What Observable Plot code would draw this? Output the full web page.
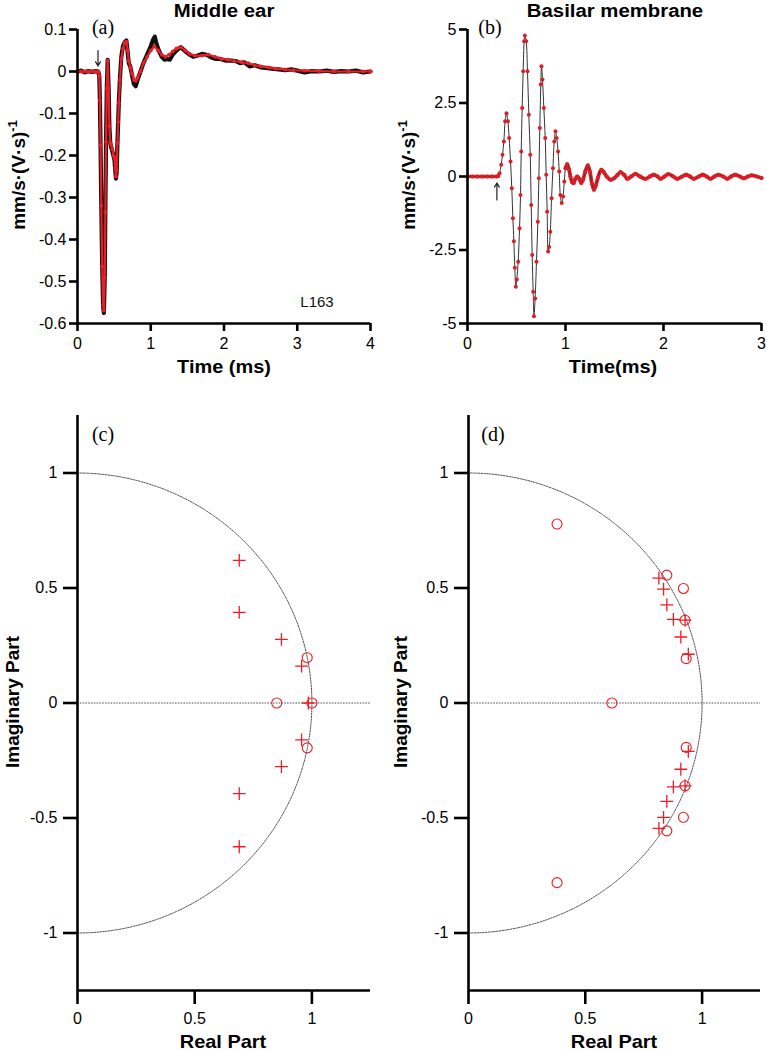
<!DOCTYPE html>
<html><head><meta charset="utf-8">
<script src="https://cdn.jsdelivr.net/npm/d3@7"></script>
<script src="https://cdn.jsdelivr.net/npm/@observablehq/plot@0.6"></script>
<style>
body{margin:0;background:#fff;}
#fig{position:relative;width:767px;height:1050px;font-family:"Liberation Sans",Arial,sans-serif;color:#000;overflow:hidden;background:#fff}
.lbl{position:absolute;white-space:nowrap;line-height:1;}
.ttl{font-weight:bold;font-size:18px;}
.axl{font-weight:bold;font-size:19px;}
.pl{font-family:"Liberation Serif","Times New Roman",serif;font-size:20px;}
sup{font-size:0.68em;vertical-align:0.55em;line-height:0}
</style></head><body><div id="fig"></div>
<script>
// ---------- (a) Middle ear: measured (black) ----------
const meMeasT = [0,0.05,0.1,0.15,0.2,0.25,0.283,0.297,0.306,0.315,0.325,0.338,0.35,0.36,0.372,0.38,0.39,0.40,0.412,0.425,0.435,0.447,0.46,0.475,0.49,0.505,0.515,0.525,0.535,0.545,0.555,0.565,0.58,0.598,0.62,0.645,0.667,0.685,0.70,0.72,0.745,0.77,0.795,0.82,0.86,0.90,0.95,1.0,1.03,1.055,1.08,1.11,1.15,1.19,1.22,1.26,1.30,1.35,1.41,1.47,1.53,1.58,1.64,1.70,1.76,1.82,1.88,1.95,2.02,2.10,2.16,2.22,2.28,2.35,2.42,2.50,2.60,2.68,2.75,2.83,2.92,3.0,3.1,3.2,3.3,3.4,3.5,3.6,3.7,3.8,3.9,4.0];
const meMeasV = [0,0.002,-0.002,0.001,-0.001,0.001,0,-0.01,-0.07,-0.18,-0.32,-0.47,-0.56,-0.575,-0.49,-0.33,-0.16,-0.04,0.028,-0.04,-0.13,-0.17,-0.18,-0.19,-0.2,-0.21,-0.235,-0.255,-0.24,-0.17,-0.12,-0.07,-0.015,0.035,0.06,0.07,0.074,0.045,0.02,0.012,-0.01,-0.03,-0.035,-0.02,0.0,0.02,0.04,0.06,0.075,0.083,0.065,0.05,0.035,0.028,0.03,0.028,0.04,0.05,0.058,0.048,0.04,0.035,0.038,0.042,0.04,0.034,0.03,0.03,0.026,0.026,0.025,0.02,0.022,0.012,0.015,0.01,0.008,0.006,0.005,0.003,0.005,0.002,-0.002,0.001,0.0,0.002,-0.001,0.001,0.0,0.002,-0.002,0.0];
// ---------- (a) Middle ear: model (red) ----------
const meModT = [0,0.05,0.1,0.15,0.2,0.25,0.283,0.297,0.306,0.315,0.325,0.338,0.35,0.36,0.372,0.38,0.39,0.40,0.412,0.425,0.435,0.447,0.46,0.475,0.49,0.505,0.515,0.525,0.535,0.545,0.555,0.565,0.58,0.598,0.62,0.645,0.667,0.685,0.70,0.72,0.745,0.77,0.795,0.82,0.86,0.90,0.95,1.0,1.05,1.10,1.15,1.20,1.25,1.30,1.35,1.41,1.47,1.53,1.60,1.70,1.79,1.88,1.97,2.05,2.14,2.24,2.33,2.42,2.50,2.60,2.70,2.83,2.95,3.1,3.3,3.5,3.7,3.9,4.0];
const meModV = [0,0,0,0,0,0,0,-0.01,-0.069,-0.176,-0.319,-0.464,-0.556,-0.569,-0.49,-0.335,-0.168,-0.04,0.026,-0.04,-0.13,-0.17,-0.175,-0.185,-0.2,-0.205,-0.23,-0.25,-0.235,-0.17,-0.12,-0.075,-0.02,0.03,0.055,0.068,0.071,0.05,0.025,0.01,-0.005,-0.02,-0.022,-0.015,0.0,0.02,0.035,0.05,0.06,0.05,0.04,0.035,0.04,0.048,0.055,0.058,0.05,0.042,0.038,0.038,0.04,0.035,0.03,0.028,0.025,0.022,0.02,0.015,0.012,0.01,0.007,0.005,0.003,0.002,0.001,0,0,0,0];
// ---------- (b) Basilar membrane ----------
const bmT = [0,0.05,0.10,0.15,0.20,0.25,0.30,0.315,0.327,0.344,0.357,0.371,0.384,0.398,0.412,0.425,0.439,0.452,0.463,0.473,0.483,0.493,0.503,0.517,0.531,0.541,0.548,0.558,0.568,0.578,0.585,0.599,0.612,0.626,0.640,0.650,0.660,0.670,0.678,0.690,0.704,0.718,0.728,0.738,0.748,0.755,0.765,0.779,0.793,0.803,0.813,0.823,0.833,0.845,0.858,0.872,0.885,0.898,0.910,0.924,0.936,0.947,0.962,0.975,0.988,1.000,1.017,1.035,1.050,1.068,1.085,1.100,1.120,1.140,1.160,1.180,1.200,1.228,1.250,1.270,1.290,1.310,1.330,1.364,1.390,1.420,1.459,1.500,1.530,1.561,1.600,1.630,1.670,1.714,1.760,1.816,1.860,1.900,1.940,1.970,2.010,2.050,2.100,2.140,2.190,2.230,2.270,2.310,2.360,2.400,2.440,2.480,2.520,2.560,2.610,2.650,2.690,2.730,2.780,2.820,2.860,2.900,2.950,3.000];
const bmV = [0,0,0,0,0,0,0,0.02,0.11,0.40,0.74,1.19,1.88,2.15,1.88,1.31,0.51,-0.40,-1.42,-2.20,-3.10,-3.75,-3.50,-2.90,-1.76,-0.63,0.85,2.33,3.58,4.60,4.80,4.60,3.58,2.10,0.74,-0.97,-2.67,-3.92,-4.75,-4.15,-2.90,-1.54,-0.06,1.65,3.13,3.75,3.30,2.33,1.31,0.06,-1.20,-2.55,-2.40,-1.88,-0.74,0.28,1.19,1.54,1.31,0.85,0.17,-0.63,-0.90,-0.68,-0.17,0.28,0.42,0.25,0.00,-0.20,-0.22,-0.08,0.00,-0.08,-0.22,-0.10,0.15,0.38,0.15,-0.25,-0.45,-0.30,-0.05,0.23,0.15,0.00,-0.11,-0.05,0.05,0.15,0.05,-0.08,0.00,0.09,0.00,-0.08,0.00,0.06,0.00,-0.08,0.00,0.08,0.00,-0.08,0.00,0.06,0.00,-0.08,0.00,0.06,0.00,-0.08,0.00,0.06,0.00,-0.08,0.00,0.06,0.00,-0.06,0.00,0.04,0.00,-0.05];
// ---------- (c) poles / zeros ----------
const cPoleRe = [0.69,0.69,0.87,0.956,0.985,0.956,0.87,0.69,0.69];
const cPoleIm = [0.62,0.394,0.277,0.16,0.0,-0.16,-0.277,-0.394,-0.625];
const cZeroRe = [0.98,0.85,1.0,0.98];
const cZeroIm = [0.197,0.0,0.0,-0.195];
// ---------- (d) poles / zeros ----------
const dPoleRe = [0.815,0.835,0.849,0.877,0.927,0.909,0.941,0.815,0.835,0.849,0.877,0.927,0.909,0.941];
const dPoleIm = [0.543,0.495,0.427,0.364,0.36,0.287,0.212,-0.545,-0.497,-0.428,-0.365,-0.36,-0.288,-0.21];
const dZeroRe = [0.379,0.849,0.92,0.927,0.932,0.614,0.932,0.927,0.92,0.849,0.379];
const dZeroIm = [0.778,0.556,0.498,0.36,0.193,0.0,-0.193,-0.36,-0.497,-0.556,-0.781];
// ---------- ticks ----------
const aXTicks = [0,1,2,3,4];
const aYTicks = [0.1,0,-0.1,-0.2,-0.3,-0.4,-0.5,-0.6];
const bXTicks = [0,1,2,3];
const bYTicks = [5,2.5,0,-2.5,-5];
const pzXTicks = [0,0.5,1];
const pzYTicks = [1,0.5,0,-0.5,-1];
// ---------- annotations ----------
const arrowA = [{x: 0.28, y1: 0.05, y2: 0.013}];
const arrowB = [{x: 0.30, y1: -0.80, y2: -0.22}];
const noteA = [{x: 3.27, y: -0.55, text: "L163"}];

const fig = document.getElementById("fig");
const RED = "#ee1c24";
const zip = (T, V) => T.map((t, i) => ({t, v: V[i]}));
const meMeas = zip(meMeasT, meMeasV);
const meMod = zip(meModT, meModV);
const bm = zip(bmT, bmV);
const pz = (R, I) => R.map((re, i) => ({re, im: I[i]}));
const unitCircle = d3.range(-90, 90.5, 1).map(a => ({re: Math.cos(a * Math.PI / 180), im: Math.sin(a * Math.PI / 180)}));

function panel(o) {
  const p = Plot.plot({
    width: o.w, height: o.h,
    marginLeft: o.ml, marginRight: o.mr, marginTop: o.mt, marginBottom: o.mb,
    x: {domain: o.xd}, y: {domain: o.yd},
    style: {fontFamily: '"Liberation Sans", Arial, sans-serif', fontSize: "16px", color: "#000", background: "none", overflow: "visible"},
    marks: [
      ...o.marks,
      Plot.ruleX([o.xd[0]], {stroke: "#000", strokeWidth: 2.6}),
      Plot.ruleY([o.yd[0]], {stroke: "#000", strokeWidth: 2.6}),
      Plot.axisX({ticks: o.xt, anchor: "bottom", tickSize: o.ts, tickPadding: o.xpad, strokeWidth: 2.6, fontSize: 16, label: null, tickFormat: d => String(d)}),
      Plot.axisY({ticks: o.yt, anchor: "left", tickSize: o.ts, tickPadding: o.ypad, strokeWidth: 2.6, fontSize: 16, label: null, tickFormat: d => String(d)})
    ]
  });
  p.style.position = "absolute";
  p.style.left = o.left + "px";
  p.style.top = o.top + "px";
  fig.appendChild(p);
}

function label(html, cx, cy, cls, extra) {
  const d = document.createElement("div");
  d.className = "lbl " + cls;
  d.innerHTML = html;
  d.style.left = cx + "px";
  d.style.top = cy + "px";
  d.style.transform = "translate(-50%,-50%) " + (extra || "");
  fig.appendChild(d);
}

// (a)
panel({left: 0, top: 0, w: 383, h: 400, ml: 77, mr: 13, mt: 29, mb: 77,
  xd: [0, 4], yd: [-0.6, 0.1], xt: aXTicks, yt: aYTicks, ts: 8, xpad: 6, ypad: 3,
  marks: [
    Plot.line(meMeas, {x: "t", y: "v", stroke: "#111", strokeWidth: 4.2, strokeLinejoin: "round"}),
    Plot.line(meMod, {x: "t", y: "v", stroke: RED, strokeWidth: 2.2}),
    Plot.dot(meMod, {x: "t", y: "v", r: 1.9, fill: RED}),
    Plot.arrow(arrowA, {x1: "x", y1: "y1", x2: "x", y2: "y2", stroke: "#222", strokeWidth: 1.2, headLength: 6}),
    Plot.text(noteA, {x: "x", y: "y", text: "text", fontSize: 15, fill: "#111"})
  ]});
// (b)
panel({left: 383, top: 0, w: 384, h: 400, ml: 84, mr: 6, mt: 29, mb: 77,
  xd: [0, 3], yd: [-5, 5], xt: bXTicks, yt: bYTicks, ts: 8, xpad: 6, ypad: 3,
  marks: [
    Plot.line(bm.filter(d => d.t <= 0.315), {x: "t", y: "v", stroke: RED, strokeWidth: 3.5}),
    Plot.line(bm.filter(d => d.t >= 1.0), {x: "t", y: "v", stroke: RED, strokeWidth: 3.8, curve: "catmull-rom"}),
    Plot.line(bm, {x: "t", y: "v", stroke: "#333", strokeWidth: 1, curve: "catmull-rom"}),
    Plot.dot(bm, {x: "t", y: "v", r: 2, fill: "#d81f26"}),
    Plot.arrow(arrowB, {x1: "x", y1: "y1", x2: "x", y2: "y2", stroke: "#222", strokeWidth: 1.2, headLength: 6})
  ]});

function pzMarks(poles, zeros) {
  return [
    Plot.ruleY([0], {stroke: "#555", strokeWidth: 1, strokeDasharray: "1.6,1.2"}),
    Plot.line(unitCircle, {x: "re", y: "im", stroke: "#555", strokeWidth: 1, strokeDasharray: "1.6,1.2"}),
    Plot.dot(zeros, {x: "re", y: "im", r: 5, stroke: RED, strokeWidth: 1.1, fill: "none"}),
    Plot.dot(poles, {x: "re", y: "im", r: 4.2, symbol: "plus", stroke: RED, strokeWidth: 1.3})
  ];
}
// (c)
panel({left: 0, top: 400, w: 383, h: 650, ml: 77, mr: 13, mt: 15, mb: 60,
  xd: [0, 1.25], yd: [-1.25, 1.25], xt: pzXTicks, yt: pzYTicks, ts: 14, xpad: 8, ypad: 6,
  marks: pzMarks(pz(cPoleRe, cPoleIm), pz(cZeroRe, cZeroIm))});
// (d)
panel({left: 383, top: 400, w: 384, h: 650, ml: 85, mr: 7, mt: 15, mb: 60,
  xd: [0, 1.25], yd: [-1.25, 1.25], xt: pzXTicks, yt: pzYTicks, ts: 14, xpad: 8, ypad: 6,
  marks: pzMarks(pz(dPoleRe, dPoleIm), pz(dZeroRe, dZeroIm))});

// titles and labels
label("Middle ear", 224, 11, "ttl", "scaleX(1.13)");
label("Basilar membrane", 615, 11, "ttl", "scaleX(1.13)");
label("(a)", 103, 27, "pl");
label("(b)", 490, 27, "pl");
label("(c)", 103, 434, "pl");
label("(d)", 493, 434, "pl");
label("Time (ms)", 224, 366, "axl", "scaleX(1.05)");
label("Time(ms)", 613, 366, "axl", "scaleX(1.05)");
label("Real Part", 223, 1041, "axl", "scaleX(1.05)");
label("Real Part", 614, 1041, "axl", "scaleX(1.05)");
label("mm/s·(V·s)<sup>-1</sup>", 18, 175, "axl", "rotate(-90deg)");
label("mm/s·(V·s)<sup>-1</sup>", 408, 175, "axl", "rotate(-90deg)");
label("Imaginary Part", 12, 702, "axl", "rotate(-90deg)");
label("Imaginary Part", 400, 702, "axl", "rotate(-90deg)");
</script></body></html>
